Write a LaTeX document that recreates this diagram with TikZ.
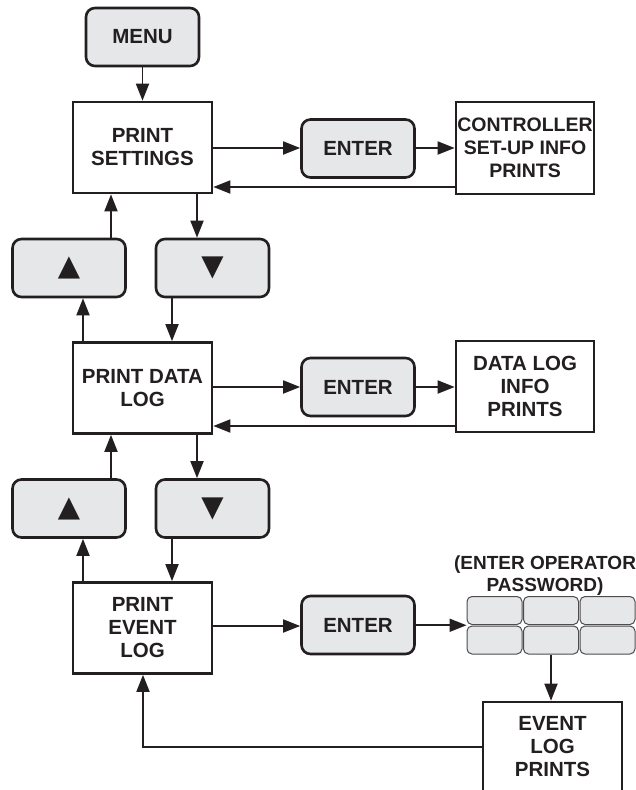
\documentclass[tikz,border=0pt]{standalone}
\usepackage{fontspec}
\setmainfont{Liberation Sans}
\newfontfamily\symfont{DejaVu Sans}
\usetikzlibrary{arrows.meta,calc}
\definecolor{ink}{HTML}{231F20}
\definecolor{keyfill}{HTML}{E6E7E8}
\newcommand{\upmark}{{\symfont\fontsize{29}{29}\selectfont ▲}}
\newcommand{\downmark}{{\symfont\fontsize{29}{29}\selectfont ▼}}
\begin{document}
\begin{tikzpicture}[x=1pt,y=-1pt,
  every node/.style={font=\bfseries\fontsize{20.5}{23}\selectfont, text=ink, align=center, inner sep=0pt},
  boxnode/.style={draw=ink, line width=2.6pt, fill=white, minimum width=139pt, minimum height=91pt},
  btn/.style={draw=ink, line width=2.6pt, fill=keyfill, rounded corners=9pt, minimum width=113pt, minimum height=58pt},
  keycap/.style={draw=ink!80, line width=1pt, fill=keyfill, rounded corners=5pt, minimum width=55pt, minimum height=28pt},
  arr/.style={draw=ink, line width=1.8pt, -{Triangle[length=17pt,width=13pt]}},
  wire/.style={draw=ink, line width=1.8pt}]
\useasboundingbox (0,0) rectangle (635,790);

% left column: menu and the three print choices
\node[btn] (menu) at (142.5,37) {MENU};
\node[boxnode] (ps) at (142.5,147.5) {PRINT\\SETTINGS};
\node[boxnode] (dl) at (142.5,388) {PRINT DATA\\LOG};
\node[boxnode] (el) at (142.5,628) {PRINT\\EVENT\\LOG};

% up / down keys between the choices
\node[btn] (up1) at (69,268) {\upmark};
\node[btn] (dn1) at (212.5,268) {\downmark};
\node[btn] (up2) at (69,508.5) {\upmark};
\node[btn] (dn2) at (212.5,508.5) {\downmark};

% enter keys
\node[btn] (en1) at (358,148.5) {ENTER};
\node[btn] (en2) at (358,387) {ENTER};
\node[btn] (en3) at (358,625) {ENTER};

% results
\node[boxnode, minimum width=138pt, minimum height=92pt, font=\bfseries\fontsize{19.5}{23}\selectfont] (ctl) at (525,148) {CONTROLLER\\SET-UP INFO\\PRINTS};
\node[boxnode, minimum width=138pt, minimum height=91pt] (dlp) at (525,386.5) {DATA LOG\\INFO\\PRINTS};
\node[boxnode, minimum width=139pt, minimum height=90pt] (elp) at (552.5,747) {EVENT\\LOG\\PRINTS};

% operator password keypad
\node[font=\bfseries\fontsize{19}{22}\selectfont] (pwlabel) at (545,576) {(ENTER OPERATOR\\PASSWORD)};
\node[keycap] (k11) at (494.5,610.5) {};
\node[keycap] (k12) at (551,610.5) {};
\node[keycap] (k13) at (607.5,610.5) {};
\node[keycap] (k21) at (494.5,640) {};
\node[keycap] (k22) at (551,640) {};
\node[keycap] (k23) at (607.5,640) {};
\coordinate (kin) at ($(k11.south west)!0.5!(k21.north west)$);

% connectors
\draw[arr] (menu) -- (ps);
\draw[arr] (ps.east |- 0,148) -- (en1.west |- 0,148);
\draw[arr] (en1.east |- 0,148) -- (ctl.west |- 0,148);
\draw[arr] (ctl.west |- 0,187) -- (ps.east |- 0,187);
\draw[arr] (ps.south -| 197,0) -- (dn1.north -| 197,0);
\draw[arr] (dn1.south -| 172,0) -- (dl.north -| 172,0);
\draw[arr] (dl.north -| 83,0) -- (up1.south -| 83,0);
\draw[arr] (up1.north -| 111,0) -- (ps.south -| 111,0);

\draw[arr] (dl.east |- 0,387) -- (en2.west |- 0,387);
\draw[arr] (en2.east |- 0,387) -- (dlp.west |- 0,387);
\draw[arr] (dlp.west |- 0,426) -- (dl.east |- 0,426);
\draw[arr] (dl.south -| 197,0) -- (dn2.north -| 197,0);
\draw[arr] (dn2.south -| 172,0) -- (el.north -| 172,0);
\draw[arr] (el.north -| 83,0) -- (up2.south -| 83,0);
\draw[arr] (up2.north -| 111,0) -- (dl.south -| 111,0);

\draw[arr] (el.east |- 0,626) -- (en3.west |- 0,626);
\draw[arr] (en3.east |- kin) -- (kin);
\draw[arr] (k22.south) -- (elp.north -| k22.south);
\draw[arr] (elp.west |- 0,747) -- (143,747) -- (el.south -| 143,0);
\end{tikzpicture}
\end{document}
